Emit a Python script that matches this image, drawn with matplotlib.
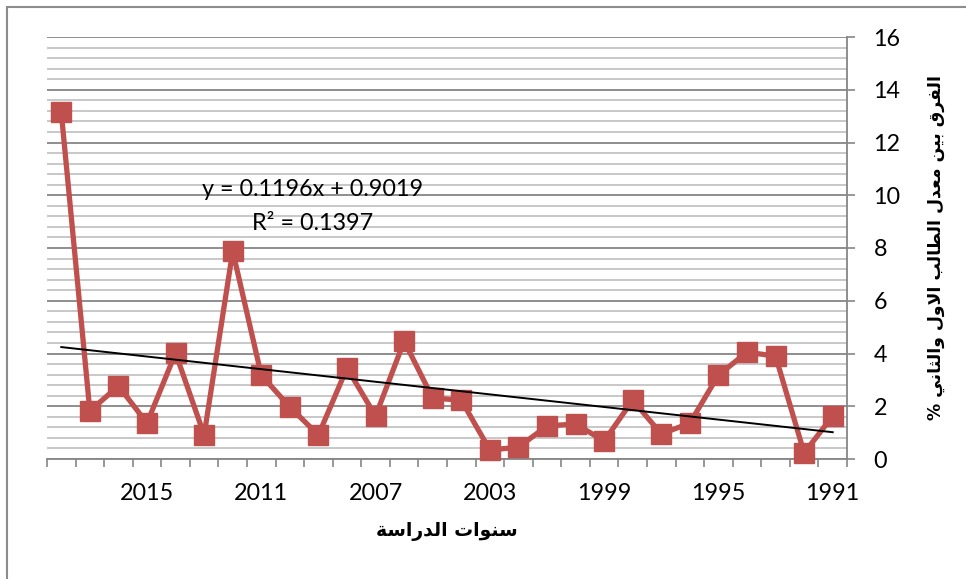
import numpy as np
import matplotlib
matplotlib.use("Agg")
import matplotlib.pyplot as plt
from matplotlib.patches import Rectangle
from matplotlib.ticker import MultipleLocator

# ---------------- data ----------------
years = list(range(1991, 2019))
values = [1.63, 0.23, 3.90, 4.05, 3.18, 1.36, 0.95, 2.23, 0.68, 1.33,
          1.25, 0.45, 0.34, 2.23, 2.31, 4.47, 1.63, 3.45, 0.91, 1.97,
          3.18, 7.88, 0.91, 4.02, 1.36, 2.77, 1.82, 13.14]
shown_years = [1991, 1995, 1999, 2003, 2007, 2011, 2015]
y_label = "الفرق بين معدل الطالب الاول والثاني %"
x_label = "سنوات الدراسة"
eq_text = "y = 0.1196x + 0.9019"
r2_text = "R² = 0.1397"

# ---------------- minimal Arabic shaping (presentation forms + RTL) ----------------
DUAL = {'ب': 0xFE8F, 'ت': 0xFE95, 'ث': 0xFE99, 'س': 0xFEB1, 'ط': 0xFEC1,
        'ع': 0xFEC9, 'ف': 0xFED1, 'ق': 0xFED5, 'ل': 0xFEDD, 'م': 0xFEE1,
        'ن': 0xFEE5, 'ي': 0xFEF1}
RIGHT = {'ا': 0xFE8D, 'ة': 0xFE93, 'د': 0xFEA9, 'ر': 0xFEAD, 'و': 0xFEED,
         'LA': 0xFEFB}


def shape(s):
    toks = []
    i = 0
    while i < len(s):
        if s[i] == 'ل' and i + 1 < len(s) and s[i + 1] == 'ا':
            toks.append('LA')
            i += 2
        else:
            toks.append(s[i])
            i += 1
    out = []
    for k, t in enumerate(toks):
        if t in DUAL or t in RIGHT:
            prev = toks[k - 1] if k > 0 else None
            nxt = toks[k + 1] if k + 1 < len(toks) else None
            jp = prev in DUAL
            if t in DUAL:
                jn = (nxt in DUAL) or (nxt in RIGHT)
                off = 3 if (jp and jn) else 1 if jp else 2 if jn else 0
                out.append(chr(DUAL[t] + off))
            else:
                out.append(chr(RIGHT[t] + (1 if jp else 0)))
        else:
            out.append(t)
    return ''.join(out[::-1])


# ---------------- figure ----------------
W, H = 966, 579
fig = plt.figure(figsize=(W / 100, H / 100), dpi=100)
fig.patch.set_facecolor('white')
fig.patches.append(Rectangle((7 / W, -0.2), 1.2, 1 - 7 / H + 0.2,
                             transform=fig.transFigure, fill=False,
                             edgecolor='#8c8c8c', lw=1.5))

ax = fig.add_axes([47 / W, 1 - 459 / H, 800 / W, 422 / H])
ax.set_facecolor('none')

num_font = 'Lato'
num_size = 16.8
red = '#C0504D'
x = np.arange(1, len(years) + 1)

ax.plot(x, values, color=red, lw=3.8, marker='s', markersize=14,
        markerfacecolor=red, markeredgecolor=red, zorder=3, clip_on=False)

# linear trend fitted to the series
coef = np.polyfit(x, values, 1)
ax.plot([x[0], x[-1]], np.polyval(coef, [x[0], x[-1]]), color='black',
        lw=1.4, zorder=4)

ax.set_xlim(len(years) + 0.5, 0.5)
ax.set_ylim(0, 16)

# y axis on the right
ax.yaxis.tick_right()
ax.yaxis.set_label_position('right')
ax.yaxis.set_major_locator(MultipleLocator(2))
ax.yaxis.set_minor_locator(MultipleLocator(0.4))
ax.tick_params(axis='y', which='major', length=6, width=1.2, color='#868686',
               direction='out', pad=13, labelsize=num_size)
ax.tick_params(axis='y', which='minor', length=0)
for lab in ax.get_yticklabels():
    lab.set_fontfamily(num_font)

# x axis: tick marks at category boundaries, labels every 4 years
ax.set_xticks(np.arange(0.5, len(years) + 1, 1.0))
ax.set_xticklabels([])
ax.set_xticks([years.index(y) + 1 for y in shown_years], minor=True)
ax.set_xticklabels([str(y) for y in shown_years], minor=True,
                   fontfamily=num_font, fontsize=num_size)
ax.tick_params(axis='x', which='major', length=6, width=1.2,
               color='#868686', direction='out')
ax.tick_params(axis='x', which='minor', length=0, pad=17)

ax.grid(which='major', axis='y', color='#868686', lw=1.3)
ax.grid(which='minor', axis='y', color='#C4C4C4', lw=1.3)
ax.set_axisbelow(True)

for s in ['top', 'left']:
    ax.spines[s].set_visible(False)
for s in ['bottom', 'right']:
    ax.spines[s].set_color('#868686')
    ax.spines[s].set_linewidth(1.3)

ax.set_ylabel(shape(y_label), fontfamily='DejaVu Sans', fontweight='bold',
              fontsize=12.4, rotation=90, labelpad=19)
ax.set_xlabel(shape(x_label), fontfamily='DejaVu Sans', fontweight='bold',
              fontsize=13.5, labelpad=13)

ax.text((313 - 47) / 800, (459 - 190) / 422, eq_text, transform=ax.transAxes,
        ha='center', va='center', fontfamily=num_font, fontsize=num_size)
ax.text((313 - 47) / 800, (459 - 223) / 422, r2_text, transform=ax.transAxes,
        ha='center', va='center', fontfamily=num_font, fontsize=num_size)

fig.savefig('out.png', dpi=100)
